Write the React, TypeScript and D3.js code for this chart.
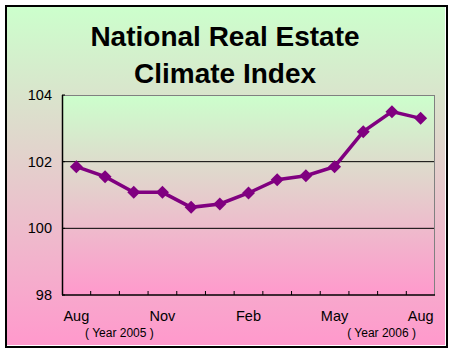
import React from "react";
import * as d3 from "d3";

const months = ["Aug", "Sep", "Oct", "Nov", "Dec", "Jan", "Feb", "Mar", "Apr", "May", "Jun", "Jul", "Aug"];
const values = [101.85, 101.55, 101.08, 101.08, 100.63, 100.73, 101.06, 101.46, 101.58, 101.85, 102.9, 103.5, 103.3];
const yTicks = [98, 100, 102, 104];
const shownLabelIdx = [0, 3, 6, 9, 12];
const yearNotes = [
  { idx: 1.5, text: "( Year 2005 )" },
  { idx: 10.5, text: "( Year 2006 )" },
];
const titleLines = ["National Real Estate", "Climate Index"];

const FONT = "'Liberation Sans', Arial, sans-serif";

export default function App() {
  const W = 450, H = 350;
  const left = 62, right = 435, top = 95, bottom = 295;
  const idx = months.map((_, i) => i);
  const x = d3.scaleBand<number>().domain(idx).range([left, right]).padding(0);
  const y = d3.scaleLinear().domain([98, 104]).range([bottom, top]);
  const cx = (i: number) => left + (i + 0.5) * x.bandwidth();
  const line = d3.line<number>().x((_, i) => cx(i)).y((v) => y(v));
  const r = 6.5;
  const diamond = `M0,${-r}L${r},0L0,${r}L${-r},0Z`;

  return (
    <svg width={W} height={H} style={{ position: "absolute", left: 0, top: 0 }}>
      <defs>
        <linearGradient id="bgGrad" x1="0" y1="0" x2="0" y2="1">
          <stop offset="0" stopColor="#ccffcc" />
          <stop offset="1" stopColor="#ff99cc" />
        </linearGradient>
        <linearGradient id="plotGrad" x1="0" y1="0" x2="0" y2="1">
          <stop offset="0" stopColor="#ccffcc" />
          <stop offset="1" stopColor="#ff99cc" />
        </linearGradient>
      </defs>
      <rect x={0} y={0} width={W} height={H} fill="#ffffff" />
      <rect x={5} y={5} width={443} height={343} fill="#000000" />
      <rect x={7} y={7} width={439} height={339} fill="#ffffff" />
      <rect x={7} y={7} width={438} height={338} fill="url(#bgGrad)" />

      {titleLines.map((t, i) => (
        <text key={i} x={225} y={46 + i * 37} textAnchor="middle" fontFamily={FONT} fontWeight="bold" fontSize={28} fill="#000">
          {t}
        </text>
      ))}

      <rect x={left} y={top} width={right - left} height={bottom - top} fill="url(#plotGrad)" />

      {yTicks.filter((t) => t !== 98 && t !== 104).map((t) => (
        <line key={t} x1={left} x2={right} y1={y(t)} y2={y(t)} stroke="#000" strokeWidth={1} />
      ))}
      <line x1={left} x2={right} y1={top + 0.5} y2={top + 0.5} stroke="#808080" strokeWidth={1} />
      <line x1={right - 0.5} x2={right - 0.5} y1={top} y2={bottom} stroke="#808080" strokeWidth={1} />
      <line x1={left + 0.5} x2={left + 0.5} y1={top} y2={bottom} stroke="#000" strokeWidth={1.5} />
      <line x1={left} x2={right} y1={bottom} y2={bottom} stroke="#000" strokeWidth={1.5} />

      {yTicks.map((t) => (
        <g key={t}>
          <line x1={left} x2={left + 3} y1={y(t)} y2={y(t)} stroke="#000" />
          <text x={52} y={y(t)} dy="0.35em" textAnchor="end" fontFamily={FONT} fontSize={14.5} fill="#000">
            {t}
          </text>
        </g>
      ))}

      {idx.slice(1).map((i) => (
        <line key={i} x1={x(i)!} x2={x(i)!} y1={bottom} y2={bottom - 4} stroke="#000" />
      ))}

      {shownLabelIdx.map((i) => (
        <text key={i} x={cx(i)} y={321} textAnchor="middle" fontFamily={FONT} fontSize={14.5} fill="#000">
          {months[i]}
        </text>
      ))}
      {yearNotes.map((n, k) => (
        <text key={k} x={cx(n.idx) + k * 4} y={337} textAnchor="middle" fontFamily={FONT} fontSize={12} fill="#000">
          {n.text}
        </text>
      ))}

      <path d={line(values) || ""} fill="none" stroke="#800080" strokeWidth={3.5} />
      {values.map((v, i) => (
        <path key={i} d={diamond} transform={`translate(${cx(i)},${y(v)})`} fill="#800080" />
      ))}
    </svg>
  );
}
